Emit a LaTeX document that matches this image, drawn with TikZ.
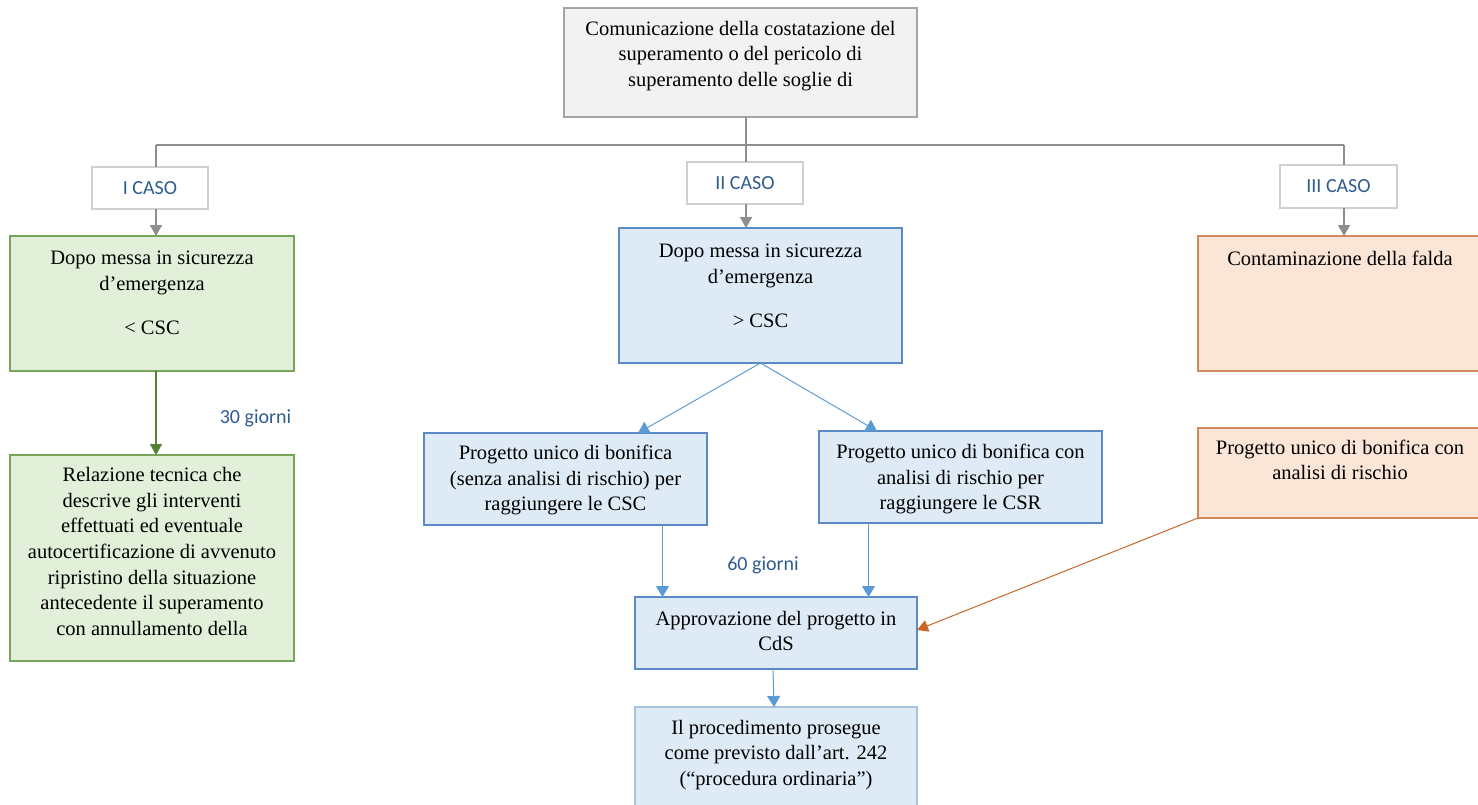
\documentclass[tikz,border=0pt]{standalone}
\usepackage{fontspec}
\setmainfont{Liberation Serif}
\newfontfamily\calib{Carlito}
\usetikzlibrary{arrows.meta}
\definecolor{linegray}{HTML}{8E8E8E}
\definecolor{topfill}{HTML}{F2F2F2}
\definecolor{topdraw}{HTML}{A5A5A5}
\definecolor{casodraw}{HTML}{D0D0D0}
\definecolor{casotext}{HTML}{2F5C8F}
\definecolor{gfill}{HTML}{E2F0D9}
\definecolor{gdraw}{HTML}{78A55A}
\definecolor{garr}{HTML}{548235}
\definecolor{bfill}{HTML}{DEEBF7}
\definecolor{bdraw}{HTML}{5B8BC6}
\definecolor{blight}{HTML}{A9C2DE}
\definecolor{barr}{HTML}{5B9BD5}
\definecolor{ofill}{HTML}{FBE5D6}
\definecolor{odraw}{HTML}{D08A5C}
\definecolor{oarr}{HTML}{C9672A}
\tikzset{
  boxbase/.style={rectangle, inner sep=0pt, outer sep=0pt, line width=1.1pt},
  topbox/.style={boxbase, fill=topfill, draw=topdraw},
  casobox/.style={boxbase, fill=white, draw=casodraw, text=casotext, font=\calib\fontsize{20}{24}\selectfont},
  gbox/.style={boxbase, fill=gfill, draw=gdraw},
  bbox/.style={boxbase, fill=bfill, draw=bdraw},
  lbbox/.style={boxbase, fill=bfill, draw=blight},
  obox/.style={boxbase, fill=ofill, draw=odraw},
  txt/.style={inner sep=0pt, align=center, font=\fontsize{20.5}{25.6}\selectfont},
  lbl/.style={inner sep=0pt, text=casotext, font=\calib\fontsize{20}{24}\selectfont},
  gline/.style={draw=linegray, line width=1.4pt},
  garrow/.style={draw=linegray, line width=1.4pt, -{Triangle[length=11pt,width=12pt]}},
  grarrow/.style={draw=garr, line width=1.1pt, -{Triangle[length=11pt,width=12pt]}},
  barrow/.style={draw=barr, line width=1pt, -{Triangle[length=11pt,width=13pt]}},
  oarrow/.style={draw=oarr, line width=1pt, -{Triangle[length=11pt,width=12pt]}},
}
\begin{document}
\begin{tikzpicture}[x=1pt,y=-1pt]
\useasboundingbox (0,0) rectangle (1478,804);
\clip (0,0) rectangle (1478,804);
% boxes
\node[topbox, minimum width=353pt, minimum height=109pt] (top) at (740.5,62.5) {};
\node[casobox, minimum width=116pt, minimum height=42pt] (c1) at (150,188) {I CASO};
\node[casobox, minimum width=116pt, minimum height=42pt] (c2) at (745,183) {II CASO};
\node[casobox, minimum width=117pt, minimum height=43pt] (c3) at (1338.5,186.5) {III CASO};
\node[gbox, minimum width=284pt, minimum height=135pt] (g1) at (152,303.5) {};
\node[gbox, minimum width=284pt, minimum height=206pt] (g2) at (152,558) {};
\node[bbox, minimum width=283pt, minimum height=135pt] (b1) at (760.5,295.5) {};
\node[bbox, minimum width=283pt, minimum height=92pt] (b2) at (565.5,479) {};
\node[bbox, minimum width=283pt, minimum height=92pt] (b3) at (960.5,477) {};
\node[bbox, minimum width=282pt, minimum height=72pt] (ap) at (776,633) {};
\node[lbbox, minimum width=282pt, minimum height=105pt] (last) at (776,759.5) {};
\node[obox, minimum width=284pt, minimum height=135pt] (o1) at (1340,303.5) {};
\node[obox, minimum width=284pt, minimum height=90pt] (o2) at (1340,473) {};
% texts
\node[txt] (topT) at (740.5,56) {Comunicazione della costatazione del\\superamento o del pericolo di\\superamento delle soglie di};
\node[txt] (g1T) at (152,293) {Dopo messa in sicurezza\\d’emergenza\\[19pt]< CSC};
\node[txt] (g2T) at (152,551.5) {Relazione tecnica che\\descrive gli interventi\\effettuati ed eventuale\\autocertificazione di avvenuto\\ripristino della situazione\\antecedente il superamento\\con annullamento della};
\node[txt] (b1T) at (760.5,286) {Dopo messa in sicurezza\\d’emergenza\\[19pt]> CSC};
\node[txt] (b2T) at (565.5,480) {Progetto unico di bonifica\\(senza analisi di rischio) per\\raggiungere le CSC};
\node[txt] (b3T) at (960.5,479) {Progetto unico di bonifica con\\analisi di rischio per\\raggiungere le CSR};
\node[txt] (apT) at (776,631) {Approvazione del progetto in\\CdS};
\node[txt] (lastT) at (776,755) {Il procedimento prosegue\\come previsto dall’art. 242\\(“procedura ordinaria”)};
\node[txt] (o1T) at (1340,258) {Contaminazione della falda};
\node[txt] (o2T) at (1340,460) {Progetto unico di bonifica con\\analisi di rischio};
\node[lbl] (d30) at (255.5,418) {30 giorni};
\node[lbl] (d60) at (763,565) {60 giorni};
% connectors
\coordinate (hl) at (156,145);
\coordinate (hm) at (746,145);
\coordinate (hr) at (1344,145);
\draw[gline] (hl) -- (hr);
\draw[gline] (top.south -| hm) -- (c2.north -| hm);
\draw[gline] (hl) -- (c1.north -| hl);
\draw[gline] (hr) -- (c3.north -| hr);
\draw[garrow] (c1.south -| hl) -- (g1.north -| hl);
\draw[garrow] (c2.south -| hm) -- (b1.north -| hm);
\draw[garrow] (c3.south -| hr) -- (o1.north -| hr);
\draw[grarrow] (g1.south -| hl) -- (g2.north -| hl);
\draw[barrow] (b1.south) -- ([xshift=72.5pt]b2.north);
\draw[barrow] (b1.south) -- ([xshift=-83.5pt]b3.north);
\draw[barrow] ([xshift=97pt]b2.south) -- ([xshift=97pt]b2.south |- ap.north);
\draw[barrow] ([xshift=-92pt]b3.south) -- ([xshift=-92pt]b3.south |- ap.north);
\draw[barrow] ([xshift=-3pt]ap.south) -- ([xshift=-2pt]last.north);
\draw[oarrow] (o2.south west) -- ([yshift=3pt]ap.east);
\end{tikzpicture}
\end{document}
